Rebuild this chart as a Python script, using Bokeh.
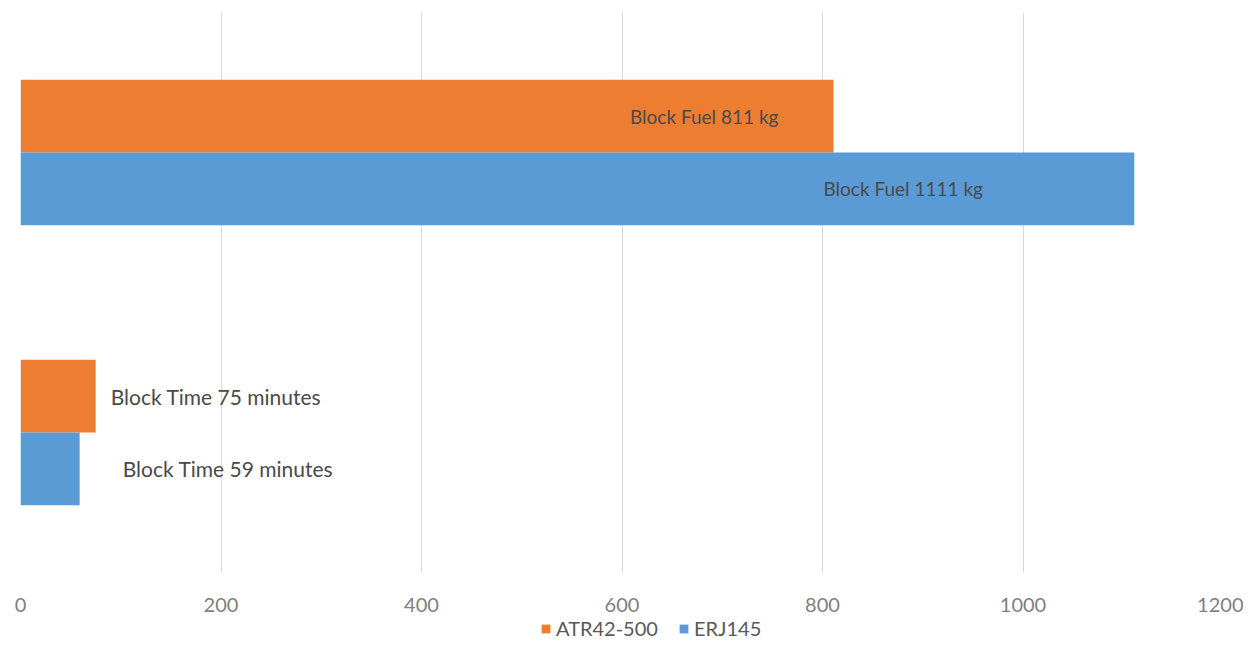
from bokeh.plotting import figure
from bokeh.layouts import column
from bokeh.models import ColumnDataSource, Range1d, FactorRange, Legend, LegendItem, FixedTicker
from bokeh.transform import dodge
from bokeh.core.properties import value
from bokeh.embed import file_html
from bokeh.resources import INLINE

categories = ["Block Time", "Block Fuel"]
series = ["ATR42-500", "ERJ145"]
atr_values = [75, 811]
erj_values = [59, 1111]
atr_labels = ["Block Time 75 minutes", "Block Fuel 811 kg"]
erj_labels = ["Block Time 59 minutes", "Block Fuel 1111 kg"]
x_ticks = [0, 200, 400, 600, 800, 1000, 1200]

# label anchor (left edge, data units)
atr_label_x = [90, 608]
erj_label_x = [102, 801]
label_sizes = ["21px", "19px"]

ORANGE = "#ED7D31"
BLUE = "#5B9BD5"
FONT = "Lato"

p = figure(frame_width=1203, frame_height=560, output_backend="svg", toolbar_location=None,
           x_range=Range1d(0, 1200), y_range=FactorRange(factors=categories, range_padding=0),
           min_border_left=20, min_border_right=20, min_border_top=12, min_border_bottom=0)

src_a = ColumnDataSource(dict(cat=categories, v=atr_values, lab=atr_labels, lx=atr_label_x, fs=label_sizes))
src_e = ColumnDataSource(dict(cat=categories, v=erj_values, lab=erj_labels, lx=erj_label_x, fs=label_sizes))

p.hbar(y=dodge("cat", 0.13, range=p.y_range), left=0, right="v", height=0.26,
       source=src_a, fill_color=ORANGE, line_color=None)
p.hbar(y=dodge("cat", -0.13, range=p.y_range), left=0, right="v", height=0.26,
       source=src_e, fill_color=BLUE, line_color=None)

p.text(x="lx", y=dodge("cat", 0.13, range=p.y_range), text="lab", source=src_a,
       text_font=value(FONT), text_font_size="fs", text_color="#4a4a4a",
       text_baseline="middle", text_align="left")
p.text(x="lx", y=dodge("cat", -0.13, range=p.y_range), text="lab", source=src_e,
       text_font=value(FONT), text_font_size="fs", text_color="#4a4a4a",
       text_baseline="middle", text_align="left")

p.yaxis.visible = False
p.ygrid.grid_line_color = None
p.xgrid.grid_line_color = "#d9d9d9"
p.xgrid.grid_line_width = 1
p.outline_line_color = None

p.xaxis.ticker = FixedTicker(ticks=x_ticks)
p.xaxis.axis_line_color = None
p.xaxis.major_tick_line_color = None
p.xaxis.minor_tick_line_color = None
p.xaxis.major_tick_out = 0
p.xaxis.major_tick_in = 0
p.xaxis.minor_tick_out = 0
p.xaxis.axis_label_standoff = 0
p.xaxis.major_label_text_font = FONT
p.xaxis.major_label_text_font_size = "20px"
p.xaxis.major_label_text_color = "#808080"
p.xaxis.major_label_standoff = 25

# legend strip below the chart
lg = figure(width=1243, height=44, output_backend="svg", toolbar_location=None,
            x_range=Range1d(0, 1), y_range=Range1d(0, 1),
            min_border_left=0, min_border_right=0, min_border_top=0, min_border_bottom=0)
lg.xaxis.visible = False
lg.yaxis.visible = False
lg.grid.grid_line_color = None
lg.outline_line_color = None
la = lg.quad(left=[-3], right=[-2], bottom=[-3], top=[-2], fill_color=ORANGE, line_color=None)
le = lg.quad(left=[-3], right=[-2], bottom=[-3], top=[-2], fill_color=BLUE, line_color=None)

legend = Legend(items=[LegendItem(label=series[0], renderers=[la]),
                       LegendItem(label=series[1], renderers=[le])],
                orientation="horizontal", location=(520, 18),
                label_text_font=FONT, label_text_font_size="20px", label_text_color="#595959",
                glyph_width=11, glyph_height=11, label_standoff=5, spacing=20, label_height=20,
                border_line_color=None, background_fill_alpha=0, padding=2, margin=0)
lg.add_layout(legend, "center")

open("out.html", "w").write(file_html(column(p, lg, spacing=0), INLINE))
